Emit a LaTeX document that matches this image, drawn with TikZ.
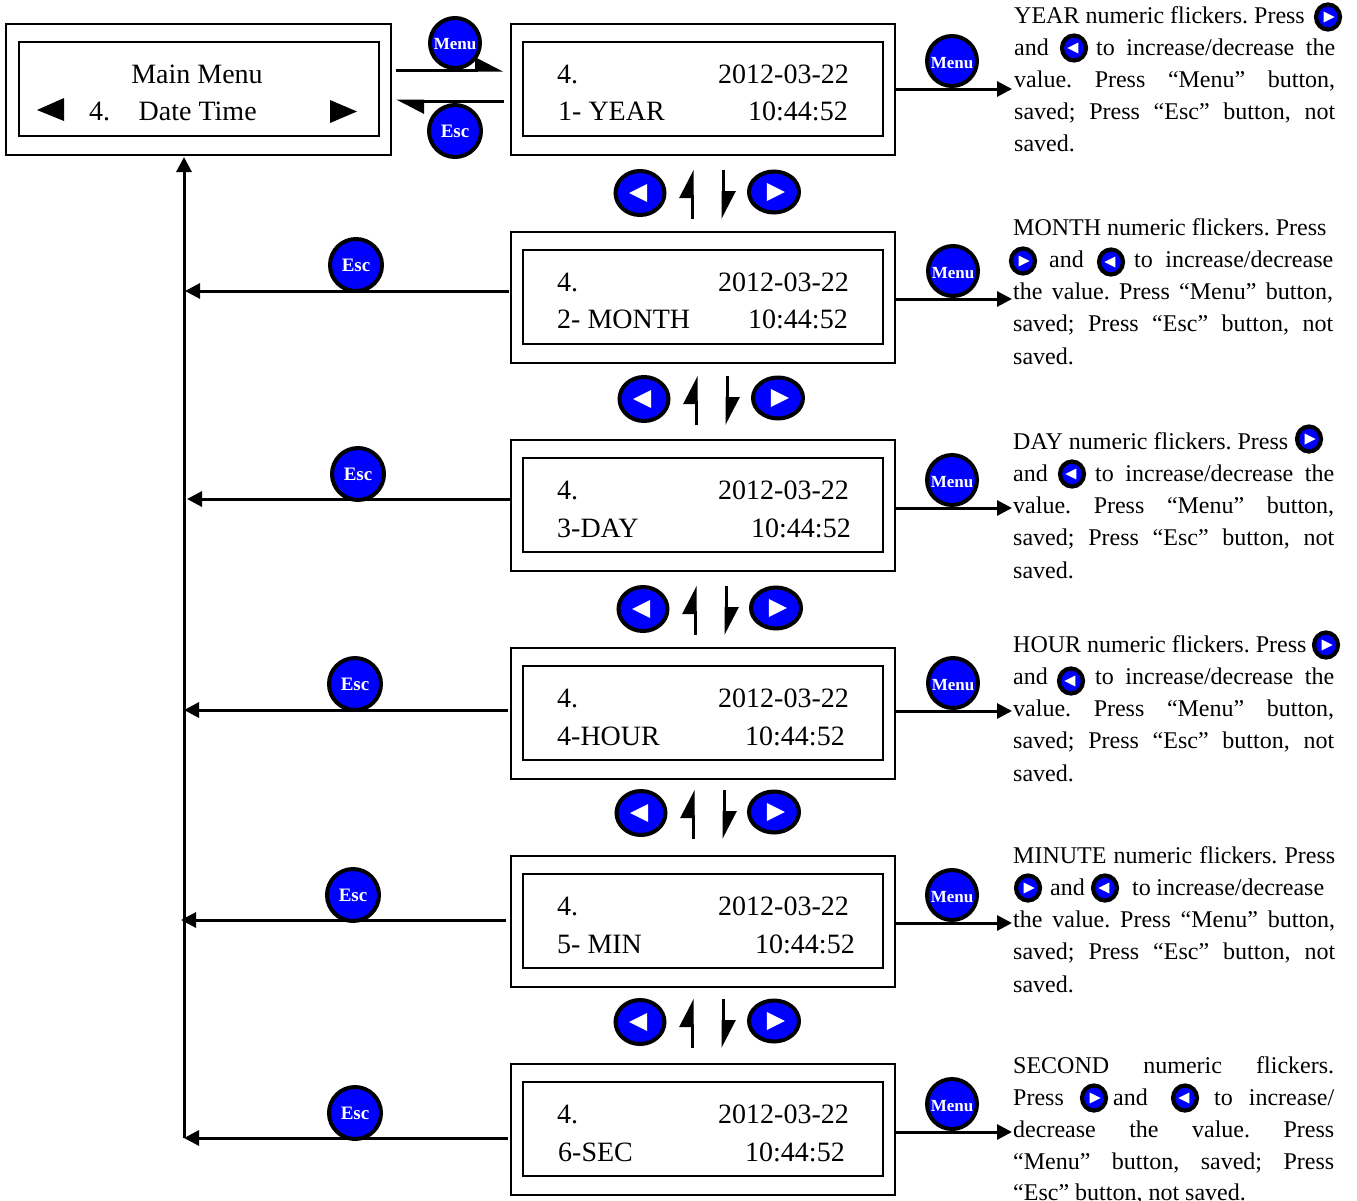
\documentclass[tikz,border=0pt]{standalone}
\usepackage{fontspec}
\setmainfont{Liberation Serif}
\usetikzlibrary{arrows.meta,shapes.geometric}
\frenchspacing

\newcommand{\screenfont}{\fontsize{28}{32}\selectfont}
\newcommand{\infofont}{\fontsize{24}{32}\selectfont}
% one line of explanation: name, x, baseline, width, text
\newcommand{\infoline}[5]{\node[infotext] (#1) at (#2,#3) {\makebox[#4pt][s]{#5}};}

\tikzset{
  outerbox/.style={draw,line width=2.4pt,minimum width=384pt,minimum height=131pt,anchor=north west,inner sep=0pt,outer sep=0pt},
  innerbox/.style={draw,line width=2.4pt,minimum width=360pt,minimum height=94pt,anchor=north west,inner sep=0pt,outer sep=0pt},
  screentext/.style={anchor=base west,inner sep=0pt,font=\screenfont},
  infotext/.style={anchor=base west,inner sep=0pt,font=\infofont},
  flow/.style={line width=3pt,-{Triangle[length=15pt,width=15pt]}},
  harpoon/.style={line width=3pt,-{Triangle[harpoon,length=25pt,width=25pt]}},
  menubtn/.style={circle,draw=black,fill=blue,line width=4pt,minimum size=50pt,inner sep=0pt,text=white,text height=16pt,font=\fontsize{17}{17}\selectfont\bfseries},
  escbtn/.style={circle,draw=black,fill=blue,line width=4pt,minimum size=52pt,inner sep=0pt,text=white,font=\fontsize{19}{19}\selectfont\bfseries},
  keybody/.style={ellipse,draw=black,fill=blue,line width=4pt,inner sep=0pt},
  leftbig/.style={keybody,minimum width=49pt,minimum height=44pt},
  rightbig/.style={keybody,minimum width=50pt,minimum height=41pt},
  smallkey/.style={keybody,line width=4.2pt,minimum width=24pt,minimum height=25pt},
  keyleft/.style={path picture={\fill[white] (path picture bounding box.center) ++(-1.2*#1,0) -- ++(2*#1,#1) -- ++(0,-2*#1) -- cycle;}},
  keyright/.style={path picture={\fill[white] (path picture bounding box.center) ++(1.2*#1,0) -- ++(-2*#1,#1) -- ++(0,-2*#1) -- cycle;}}
}

\begin{document}
\begin{tikzpicture}[x=1pt,y=-1pt]
\useasboundingbox (0,0) rectangle (1357,1200);

% main menu
\node[outerbox,minimum width=385pt] (main) at (6,24) {};
\node[innerbox] (maininner) at (19,42) {};
\node[anchor=base,inner sep=0pt,font=\screenfont] (maintitle) at (197,83) {Main Menu};
\node[screentext] (mainno) at (89,120) {4.};
\node[screentext] (mainitem) at (138.5,120) {Date Time};
\fill (37,110) -- (64,98) -- (64,121) -- cycle;
\fill (357,111.5) -- (330,100) -- (330,123) -- cycle;

% the six screens
\foreach \i/\top/\rowname/\xname/\xtime/\yitem in {1/24/1- YEAR/558/748/96,2/232/2- MONTH/557/748/96,3/440/3-DAY/557/751/97,4/648/4-HOUR/557/745/97,5/856/5- MIN/557/755/97,6/1064/6-SEC/558/745/97}
{
  \node[outerbox] (outer\i) at (511,\top) {};
  \node[innerbox] (inner\i) at (523,\top+18) {};
  \node[screentext] (no\i) at (557,\top+59) {4.};
  \node[screentext] (date\i) at (718,\top+59) {2012-03-22};
  \node[screentext] (item\i) at (\xname,\top+\yitem) {\rowname};
  \node[screentext] (time\i) at (\xtime,\top+\yitem) {10:44:52};
}

% main menu <-> year
\coordinate (intoyear) at (503,70);
\coordinate (outofmain) at (396,70);
\coordinate (backfrom) at (504,101);
\coordinate (backmain) at (396,101);
\draw[harpoon] (outofmain) -- (intoyear);
\draw[harpoon] (backfrom) -- (backmain);
\node[menubtn,text height=13pt] (menu0) at (455,43) {Menu};
\node[escbtn] (esc0) at (455,131) {Esc};

% trunk back to the main menu
\coordinate (trunkfoot) at (184,1138);
\draw[flow,shorten >=2pt] (trunkfoot) -- (main.south -| trunkfoot);
\foreach \i/\x/\y/\xs/\bx/\by in {2/185/291/509/356/265,3/187/499/511/358/474,4/184/710/508/355/684,5/181/920/506/353/895,6/184/1138/508/355/1113}
{
  \coordinate (trunk\i) at (\x,\y);
  \coordinate (from\i) at (\xs,\y);
  \draw[flow] (from\i) -- (trunk\i);
  \node[escbtn] (esc\i) at (\bx,\by) {Esc};
}

% menu buttons on the right
\foreach \i/\y/\by/\bx in {1/89/61/952,2/299/271/953,3/508/480/952,4/711/683/953,5/923/895/952,6/1132/1104/952}
{
  \coordinate (info\i) at (1012,\y);
  \draw[flow] (outer\i.east |- info\i) -- (info\i);
  \node[menubtn] (menu\i) at (\bx,\by) {Menu};
}

% keys and up/down between the screens
\foreach \i/\xl/\yl/\xr/\yr/\xu/\xd/\yt in {1/640/193/774/192/692/723/170,2/644/399/778/398/696/727/376,3/643/609/776/608/695/726/586,4/641/813/774/812/693/724/790,5/640/1022/774/1021/692/723/999}
{
  \coordinate (upfoot\i) at (\xu,\yt+49);
  \coordinate (uptip\i) at (\xu,\yt);
  \coordinate (downtop\i) at (\xd,\yt);
  \coordinate (downtip\i) at (\xd,\yt+49);
  \draw[harpoon] (upfoot\i) -- (uptip\i);
  \draw[harpoon] (downtop\i) -- (downtip\i);
  \node[leftbig,keyleft=9] (left\i) at (\xl,\yl) {};
  \node[rightbig,keyright=9] (right\i) at (\xr,\yr) {};
}

% year
\node[infotext] (yeara) at (1014,23) {YEAR numeric flickers. Press};
\node[smallkey,keyright=5.5] (yearr) at (1328,17) {};
\node[infotext] (yearb) at (1014,55) {and};
\node[smallkey,keyleft=5.5] (yearl) at (1074,48) {};
\infoline{yearc}{1096}{55}{239}{to increase/decrease the}
\infoline{yeard}{1014}{87}{321}{value. Press “Menu” button,}
\infoline{yeare}{1014}{119}{321}{saved; Press “Esc” button, not}
\node[infotext] (yearf) at (1014,151) {saved.};

% month
\node[infotext] (montha) at (1013,235) {MONTH numeric flickers. Press};
\node[smallkey,keyright=5.5] (monthr) at (1023,261) {};
\node[infotext] (monthb) at (1049,267) {and};
\node[smallkey,keyleft=5.5] (monthl) at (1111,262) {};
\infoline{monthc}{1134}{267}{199}{to increase/decrease}
\infoline{monthd}{1013}{299}{320}{the value. Press “Menu” button,}
\infoline{monthe}{1013}{331}{320}{saved; Press “Esc” button, not}
\node[infotext] (monthf) at (1013,364) {saved.};

% day
\node[infotext] (daya) at (1013,449) {DAY numeric flickers. Press};
\node[smallkey,keyright=5.5] (dayr) at (1309,439) {};
\node[infotext] (dayb) at (1013,481) {and};
\node[smallkey,keyleft=5.5] (dayl) at (1072,474) {};
\infoline{dayc}{1095}{481}{239}{to increase/decrease the}
\infoline{dayd}{1013}{513}{321}{value. Press “Menu” button,}
\infoline{daye}{1013}{545}{321}{saved; Press “Esc” button, not}
\node[infotext] (dayf) at (1013,578) {saved.};

% hour
\node[infotext] (houra) at (1013,652) {HOUR numeric flickers. Press};
\node[smallkey,keyright=5.5] (hourr) at (1326,645) {};
\node[infotext] (hourb) at (1013,684) {and};
\node[smallkey,keyleft=5.5] (hourl) at (1071,681) {};
\infoline{hourc}{1095}{684}{239}{to increase/decrease the}
\infoline{hourd}{1013}{716}{321}{value. Press “Menu” button,}
\infoline{houre}{1013}{748}{321}{saved; Press “Esc” button, not}
\node[infotext] (hourf) at (1013,781) {saved.};

% minute
\infoline{mina}{1013}{863}{322}{MINUTE numeric flickers. Press}
\node[smallkey,keyright=5.5] (minr) at (1028,888) {};
\node[infotext] (minb) at (1050,895) {and};
\node[smallkey,keyleft=5.5] (minl) at (1105,888) {};
\infoline{minc}{1132}{895}{192}{to increase/decrease}
\infoline{mind}{1013}{927}{322}{the value. Press “Menu” button,}
\infoline{mine}{1013}{959}{322}{saved; Press “Esc” button, not}
\node[infotext] (minf) at (1013,992) {saved.};

% second
\infoline{seca}{1013}{1073}{321}{SECOND numeric flickers.}
\node[infotext] (secb) at (1013,1105) {Press};
\node[smallkey,keyright=5.5] (secr) at (1094,1098) {};
\node[infotext] (secc) at (1113,1105) {and};
\node[smallkey,keyleft=5.5] (secl) at (1185,1098) {};
\infoline{secd}{1214}{1105}{120}{to increase/}
\infoline{sece}{1013}{1137}{321}{decrease the value. Press}
\infoline{secf}{1013}{1169}{321}{“Menu” button, saved; Press}
\node[infotext] (secg) at (1013,1200) {“Esc” button, not saved.};
\end{tikzpicture}
\end{document}
